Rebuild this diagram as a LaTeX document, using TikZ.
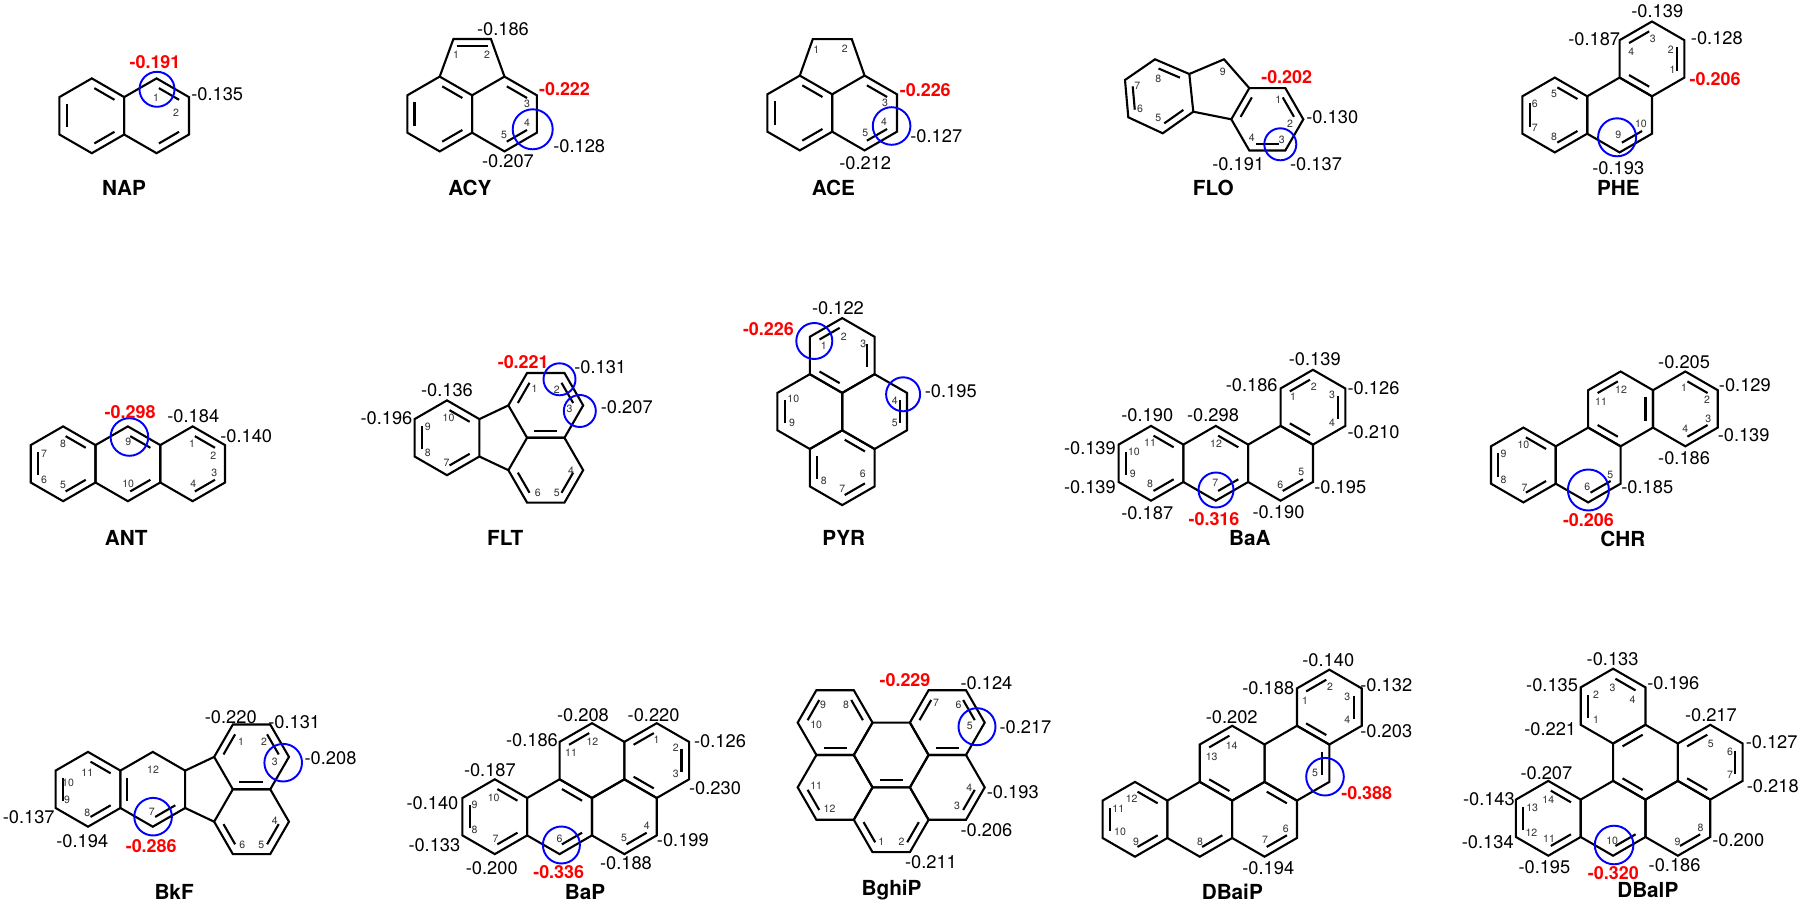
\documentclass[tikz,border=0pt]{standalone}
\usepackage{fontspec}
\setmainfont{TeX Gyre Heros}
\usetikzlibrary{calc}
\newcounter{lc}
\tikzset{
 bond/.style={line width=1.2pt,line join=miter},
 circ/.style={blue,line width=1.1pt},
 lab/.style={inner sep=0pt,font=\fontsize{10.4}{12}\selectfont,text depth=0pt},
 labr/.style={inner sep=0pt,text=red,font=\fontsize{10.2}{12}\selectfont\bfseries,text depth=0pt},
 num/.style={inner sep=0pt,font=\fontsize{6}{7}\selectfont,text=black!80,text depth=0pt},
 ttl/.style={inner sep=0pt,font=\fontsize{11.8}{13}\selectfont\bfseries,text depth=0pt}
}
\newcommand\hx[3]{\coordinate (#1c) at (#2,#3);
 \foreach \k in {0,...,5}{\coordinate (#1\k) at ({#2+sin(60*\k)},{#3-cos(60*\k)});}
 \draw[bond] (#10)--(#11)--(#12)--(#13)--(#14)--(#15)--cycle;}
\newcommand\hf[3]{\coordinate (#1c) at (#2,#3);
 \foreach \k in {0,...,5}{\coordinate (#1\k) at ({#2+cos(60*\k)},{#3+sin(60*\k)});}
 \draw[bond] (#10)--(#11)--(#12)--(#13)--(#14)--(#15)--cycle;}
\newcommand\dbx[3]{\coordinate (dbp) at ($(#1)!0.22!(#3)$);\coordinate (dbq) at ($(#2)!0.22!(#3)$);
 \draw[bond] ($(dbp)!0.1!(dbq)$) -- ($(dbq)!0.1!(dbp)$);}
\newcommand\db[2]{\pgfmathtruncatemacro\nk{mod(#2+1,6)}\dbx{#1#2}{#1\nk}{#1c}}
\newcommand\Lb[3]{\stepcounter{lc}\node[lab] (t\thelc) at (#1,#2) {#3};}
\newcommand\Lw[3]{\stepcounter{lc}\node[lab,anchor=west] (t\thelc) at (#1,#2) {#3};}
\newcommand\Lr[3]{\stepcounter{lc}\node[labr] (t\thelc) at (#1,#2) {#3};}
\newcommand\Nm[3]{\stepcounter{lc}\node[num] (t\thelc) at (#1,#2) {#3};}
\newcommand\Tt[3]{\stepcounter{lc}\node[ttl] (t\thelc) at (#1,#2) {#3};}
\newcommand\Ci[3]{\draw[circ] (#1,#2) circle (#3);}
\begin{document}
\begin{tikzpicture}[x=0.02cm,y=-0.02cm]
\fill[white] (0,0) rectangle (1800,902);
\useasboundingbox (0,0) rectangle (1800,902);
% ---------- NAP
\begin{scope}[shift={(91.8,115.8)},scale=37.5]
\hx{na}{0}{0}\hx{nb}{1.732}{0}
\db{na}{0}\db{na}{2}\db{na}{4}\db{nb}{0}\db{nb}{2}
\end{scope}
\Ci{157}{89.3}{17.5}
\Lr{155}{61.7}{-0.191}\Lw{191}{94}{-0.135}\Nm{156}{97.7}{1}\Nm{176}{112.7}{2}
\Tt{124}{188.3}{NAP}
% ---------- ACY
\begin{scope}[shift={(439.7,114)},scale=37.5]
\hx{ya}{0}{0}\hx{yb}{1.732}{0}
\draw[bond] (ya0)--(0.366,-2)--(1.366,-2)--(yb0);
\draw[bond] (0.45,-1.82)--(1.28,-1.82);
\db{ya}{0}\db{ya}{2}\db{ya}{4}\db{yb}{0}\db{yb}{2}
\end{scope}
\Ci{532.7}{129.3}{20}
\Lb{503}{29.3}{-0.186}\Nm{456}{55}{1}\Nm{487}{55}{2}\Lr{564.5}{89.3}{-0.222}
\Nm{527}{104}{3}\Nm{527}{122.7}{4}\Nm{504}{135}{5}\Lw{553}{146}{-0.128}\Lb{508}{160.7}{-0.207}
\Tt{470}{187.7}{ACY}
% ---------- ACE
\begin{scope}[shift={(799.8,113)},scale=37.5]
\hx{ea}{0}{0}\hx{eb}{1.732}{0}
\draw[bond] (ea0)--(0.346,-1.97)--(1.386,-1.97)--(eb0);
\db{ea}{0}\db{ea}{2}\db{ea}{4}\db{eb}{0}\db{eb}{2}
\end{scope}
\Ci{891.6}{126}{18.8}
\Nm{816.2}{50}{1}\Nm{844.9}{48.3}{2}\Lr{925.3}{90}{-0.226}\Nm{885.1}{102.7}{3}\Nm{884}{122}{4}
\Nm{865.2}{133.3}{5}\Lw{910}{136}{-0.127}\Lb{865.2}{163.3}{-0.212}
\Tt{833.4}{187.7}{ACE}
% ---------- FLO
\coordinate (L1) at (1125,80);\coordinate (L2) at (1155,59.3);\coordinate (L3) at (1189.3,74);
\coordinate (L4) at (1193.3,111.7);\coordinate (L5) at (1162.7,133.3);\coordinate (L6) at (1128.3,117.3);
\coordinate (Lc) at (1158.9,95.9);\coordinate (C9) at (1224,59.3);
\coordinate (R1) at (1249.3,88.1);\coordinate (R2) at (1285.3,88.1);\coordinate (R3) at (1303.3,119.3);
\coordinate (R4) at (1285.3,150.5);\coordinate (R5) at (1249.3,150.5);\coordinate (R6) at (1231.3,119.3);
\coordinate (Rc) at (1267.3,119.3);
\draw[bond] (L1)--(L2)--(L3)--(L4)--(L5)--(L6)--cycle;
\draw[bond] (R1)--(R2)--(R3)--(R4)--(R5)--(R6)--cycle;
\draw[bond] (L3)--(C9)--(R1);\draw[bond] (L4)--(R6);
\dbx{L6}{L1}{Lc}\dbx{L2}{L3}{Lc}\dbx{L5}{L4}{Lc}\dbx{R1}{R6}{Rc}\dbx{R2}{R3}{Rc}\dbx{R4}{R5}{Rc}
\Ci{1280.3}{144.3}{16}
\Nm{1222.7}{71.7}{9}\Nm{1158.3}{79}{8}\Nm{1137.3}{86}{7}\Nm{1140}{108.3}{6}\Nm{1158.3}{118.3}{5}
\Lr{1286.7}{76.7}{-0.202}\Nm{1278.3}{99.3}{1}\Nm{1290}{123.3}{2}\Lw{1306}{117.3}{-0.130}
\Nm{1251.7}{137.7}{4}\Nm{1281.7}{140}{3}\Lb{1238.3}{164}{-0.191}\Lb{1316}{164}{-0.137}
\Tt{1213.3}{187.7}{FLO}
% ---------- PHE
\begin{scope}[shift={(1554.8,115)},scale=37.5]
\hx{pa}{0}{0}\hx{pb}{1.732}{0}\hx{pc}{2.598}{-1.5}
\db{pa}{0}\db{pa}{2}\db{pa}{4}\db{pb}{2}\db{pc}{1}\db{pc}{3}\db{pc}{5}
\end{scope}
\Ci{1617.1}{137.3}{19}
\Lb{1657.3}{10.7}{-0.139}\Lb{1594.2}{39}{-0.187}\Nm{1652.7}{38.3}{3}\Lw{1690.6}{37.7}{-0.128}
\Nm{1670.7}{49.3}{2}\Nm{1631.3}{51.7}{4}\Nm{1672.6}{70}{1}\Lr{1715.1}{79.3}{-0.206}
\Nm{1554}{94.3}{5}\Nm{1534.9}{103.3}{6}\Nm{1534.9}{128.3}{7}\Nm{1554}{136.7}{8}
\Nm{1640.9}{124}{10}\Nm{1618.3}{135}{9}\Lb{1618.3}{168.3}{-0.193}
\Tt{1618.3}{188.3}{PHE}
% ---------- ANT
\begin{scope}[shift={(63.1,463.8)},scale=37.5]
\hx{aa}{0}{0}\hx{ab}{1.732}{0}\hx{ac}{3.464}{0}
\db{aa}{0}\db{aa}{2}\db{aa}{4}\db{ab}{0}\db{ab}{2}\db{ac}{0}\db{ac}{2}
\end{scope}
\Ci{129.4}{437}{18.8}
\Lr{130.1}{411.7}{-0.298}\Lb{193.3}{416}{-0.184}\Lw{220}{436}{-0.140}
\Nm{63.1}{443.3}{8}\Nm{44}{454}{7}\Nm{44}{479.3}{6}\Nm{63.1}{485}{5}\Nm{128.2}{441.7}{9}\Nm{128.2}{484}{10}
\Nm{192.1}{444}{1}\Nm{213.2}{456}{2}\Nm{214.3}{472.7}{3}\Nm{193.3}{484}{4}
\Tt{126.3}{538.3}{ANT}
% ---------- FLT
\begin{scope}[shift={(447,437.8)},scale=37.5]
\hx{fa}{0}{0}\hf{fb}{2.641}{-0.866}\hf{fc}{2.641}{0.866}
\draw[bond] (fa1)--(fb3);\draw[bond] (fa2)--(fc3);
\db{fa}{0}\db{fa}{2}\db{fa}{4}\db{fb}{1}\db{fb}{3}\db{fb}{5}\db{fc}{0}\db{fc}{2}
\end{scope}
\Ci{559.5}{379.3}{16}\Ci{579.8}{411}{16}
\Lr{523.2}{361.7}{-0.221}\Lw{574}{367.5}{-0.131}\Lb{626.8}{406.7}{-0.207}\Lb{447}{390}{-0.136}\Lb{386.5}{418.3}{-0.196}
\Nm{448.5}{417.3}{10}\Nm{427.9}{426.7}{9}\Nm{427.9}{452.7}{8}\Nm{446.6}{462.7}{7}
\Nm{534.6}{389}{1}\Nm{556.8}{390}{2}\Nm{569.5}{408.3}{3}\Nm{571}{471}{4}\Nm{556.8}{492.7}{5}\Nm{537.7}{492.7}{6}
\Tt{505.2}{538.3}{FLT}
% ---------- PYR
\begin{scope}[shift={(842.2,355.5)},scale=37.5]
\hx{ra}{0}{0}\hx{rb}{-0.866}{1.5}\hx{rc}{0.866}{1.5}\hx{rd}{0}{3}
\db{ra}{5}\db{ra}{1}\db{ra}{3}\db{rb}{4}\db{rc}{1}\db{rd}{4}\db{rd}{2}\db{rd}{0}
\end{scope}
\Ci{814.3}{341}{18}\Ci{903.1}{394.3}{17}
\Lb{838}{308.3}{-0.122}\Lr{768.4}{329.3}{-0.226}\Nm{843.8}{336.7}{2}\Nm{823.9}{346}{1}\Nm{863.3}{344}{3}
\Lw{924.5}{390.7}{-0.195}\Nm{894.7}{401}{4}\Nm{894.7}{423.3}{5}\Nm{793.3}{398.3}{10}\Nm{792.1}{422.7}{9}
\Nm{823.9}{481}{8}\Nm{842.2}{489.3}{7}\Nm{862.9}{474}{6}
\Tt{843.8}{538.3}{PYR}
% ---------- BaA
\begin{scope}[shift={(1151,463.3)},scale=37.5]
\hx{ba}{0}{0}\hx{bb}{1.732}{0}\hx{bc}{3.464}{0}\hx{bd}{4.330}{-1.5}
\db{ba}{0}\db{ba}{2}\db{ba}{4}\db{bb}{0}\db{bb}{2}\db{bc}{2}\db{bd}{5}\db{bd}{1}\db{bd}{3}
\end{scope}
\Ci{1216}{490}{17.5}
\Lb{1314.8}{359.3}{-0.139}\Lb{1251.7}{385}{-0.186}\Nm{1313.7}{386.7}{2}\Lw{1347.3}{388.3}{-0.126}
\Nm{1293}{396.7}{1}\Nm{1332}{395}{3}\Lb{1213}{415}{-0.298}\Nm{1216}{443.3}{12}\Nm{1332}{422.7}{4}
\Lw{1347.3}{431.7}{-0.210}\Nm{1301.4}{471.7}{5}\Nm{1280.4}{485}{6}\Lw{1314}{486.7}{-0.195}
\Nm{1215.3}{483.3}{7}\Lb{1278.5}{511.7}{-0.190}\Lr{1214}{519.3}{-0.316}
\Lb{1147.3}{415}{-0.190}\Lb{1089.9}{448.3}{-0.139}\Nm{1133.9}{451.7}{10}\Nm{1150}{442.7}{11}
\Nm{1132.7}{474}{9}\Nm{1150}{484}{8}\Lb{1089.9}{486.7}{-0.139}\Lb{1147.3}{513.3}{-0.187}
\Tt{1249.8}{538.3}{BaA}
% ---------- CHR
\begin{scope}[shift={(1523.4,465)},scale=37.5]
\hx{ca}{0}{0}\hx{cb}{1.732}{0}\hx{cc}{2.598}{-1.5}\hx{cd}{4.33}{-1.5}
\db{ca}{0}\db{ca}{2}\db{ca}{4}\db{cb}{2}\db{cc}{5}\db{cc}{1}\db{cc}{3}\db{cd}{0}\db{cd}{2}
\end{scope}
\Ci{1588.4}{490}{20.5}
\Lb{1684.1}{361.7}{-0.205}\Lw{1718.6}{385}{-0.129}\Nm{1621}{389.3}{12}\Nm{1684.1}{387.3}{1}\Nm{1707}{400}{2}
\Nm{1601}{401.7}{11}\Nm{1708.2}{418.3}{3}\Nm{1685.3}{428.3}{4}\Lw{1717.4}{435}{-0.139}
\Nm{1523.4}{445}{10}\Nm{1503.5}{453.3}{9}\Lb{1684.1}{458.3}{-0.186}\Nm{1503.5}{480}{8}\Nm{1524.5}{488.3}{7}
\Nm{1587.3}{486.7}{6}\Nm{1610.3}{475}{5}\Lw{1621}{486.7}{-0.185}\Lr{1588.4}{520}{-0.206}
\Tt{1622.9}{539}{CHR}
% ---------- BkF
\begin{scope}[shift={(88,789.3)},scale=37.5]
\hx{ka}{0}{0}\hx{kb}{1.732}{0}\hf{kc}{4.373}{-0.866}\hf{kd}{4.373}{0.866}
\draw[bond] (kb1)--(kc3);\draw[bond] (kb2)--(kd3);
\db{ka}{0}\db{ka}{2}\db{ka}{4}\db{kb}{4}\db{kb}{2}\db{kc}{3}\db{kc}{5}\db{kc}{1}\db{kd}{0}\db{kd}{2}
\end{scope}
\Ci{283.2}{762.7}{18.8}\Ci{153.1}{816.7}{18.8}
\Lb{230.8}{716.7}{-0.220}\Lw{268}{721.7}{-0.131}\Nm{241.1}{741.7}{1}\Nm{264.1}{741.7}{2}\Nm{274.8}{761.7}{3}
\Lw{304.3}{758.3}{-0.208}\Nm{87.3}{772.7}{11}\Nm{153.1}{770}{12}\Nm{68.1}{782.7}{10}\Nm{67}{800}{9}
\Nm{87.3}{812.7}{8}\Nm{151.9}{811.7}{7}\Nm{274.8}{820.7}{4}\Nm{242.2}{845}{6}\Nm{261.4}{845}{5}
\Lb{28.7}{816.7}{-0.137}\Lb{82.3}{840.7}{-0.194}\Lr{151.2}{846}{-0.286}
\Tt{174.1}{891.7}{BkF}
% ---------- BaP
\begin{scope}[shift={(494.8,816.7)},scale=37.5]
\hx{qa}{0}{0}\hx{qb}{1.732}{0}\hx{qe}{3.464}{0}\hx{qc}{2.598}{-1.5}\hx{qd}{4.33}{-1.5}
\db{qa}{0}\db{qa}{2}\db{qa}{4}\db{qb}{0}\db{qb}{2}\db{qc}{5}\db{qd}{5}\db{qd}{1}\db{qd}{3}\db{qe}{2}
\end{scope}
\Ci{561.4}{845}{18.5}
\Lb{532}{740}{-0.186}\Lb{583}{715}{-0.208}\Nm{571}{752.3}{11}\Nm{592.4}{741.7}{12}\Lb{489.9}{770}{-0.187}
\Nm{493.7}{797.3}{10}\Nm{474.6}{805}{9}\Lb{432.5}{803.3}{-0.140}\Nm{474.6}{830}{8}\Nm{495.6}{839}{7}
\Nm{559.5}{839}{6}\Lb{434.4}{845}{-0.133}\Lb{491.8}{868.3}{-0.200}\Lr{558.7}{871.7}{-0.336}
\Lb{653.6}{715}{-0.220}\Nm{656.6}{740}{1}\Nm{675.8}{747.3}{2}\Lw{693.8}{740.7}{-0.126}\Nm{675.8}{774}{3}
\Lw{688.8}{788.3}{-0.230}\Nm{646.7}{826}{4}\Nm{624.1}{838.3}{5}\Lw{656.6}{840}{-0.199}\Lb{626}{863.3}{-0.188}
\Tt{585}{891.7}{BaP}
% ---------- BghiP
\begin{scope}[shift={(891.2,755)},scale=37.5]
\hf{ga}{0}{0}\hf{gtl}{-1.5}{-0.866}\hf{gtr}{1.5}{-0.866}\hf{gml}{-1.5}{0.866}\hf{gmr}{1.5}{0.866}\hf{gb}{0}{1.732}
\db{gtl}{3}\db{gtl}{5}\db{gtl}{1}\db{gtr}{3}\db{gtr}{5}\db{gtr}{1}\db{gml}{2}\db{ga}{1}\db{gmr}{0}\db{gb}{2}\db{gb}{0}
\end{scope}
\Ci{977}{726.7}{18.5}
\Lr{905}{680}{-0.229}\Lb{986.5}{683.3}{-0.124}\Nm{823.1}{704.3}{9}\Nm{846.1}{704.3}{8}\Nm{936}{703.3}{7}
\Nm{958.6}{705}{6}\Nm{816.2}{724.3}{10}\Nm{969.7}{726}{5}\Lw{999.2}{727.3}{-0.217}\Nm{816.2}{786}{11}
\Nm{969.3}{787.3}{4}\Lw{986.5}{791.7}{-0.193}\Nm{829.6}{808.3}{12}\Nm{957.1}{806}{3}\Lb{986.5}{830}{-0.206}
\Nm{881.3}{841.7}{1}\Nm{901.6}{841.7}{2}\Lb{931}{861.7}{-0.211}
\Tt{891.6}{887.7}{BghiP}
% ---------- DBaiP
\begin{scope}[shift={(1135,819.3)},scale=37.5]
\hx{ia}{0}{0}\hx{ib}{1.732}{0}\hx{ic}{2.598}{-1.5}\hx{id}{3.464}{0}\hx{ie}{4.33}{-1.5}\hx{ig}{5.196}{-3}
\db{ia}{0}\db{ia}{2}\db{ia}{4}\db{ib}{2}\db{ic}{5}\db{ic}{3}\db{id}{0}\db{id}{2}\db{ie}{1}\db{ig}{5}\db{ig}{1}\db{ig}{3}
\end{scope}
\Ci{1325}{776.7}{18.8}
\Lb{1328.3}{660}{-0.140}\Lb{1268.3}{688.3}{-0.188}\Nm{1330}{686.7}{2}\Lw{1360}{685}{-0.132}\Nm{1305}{700.7}{1}
\Nm{1347.3}{696.7}{3}\Lb{1231.7}{716.7}{-0.202}\Nm{1347.3}{720}{4}\Lw{1360}{730.7}{-0.203}\Nm{1231.7}{746}{14}
\Nm{1211.7}{756.7}{13}\Nm{1315}{773.3}{5}\Lr{1366.7}{793.3}{-0.388}\Nm{1131.7}{798.3}{12}\Nm{1118.3}{808.3}{11}
\Nm{1120}{831.7}{10}\Nm{1136}{841.7}{9}\Nm{1200}{841.7}{8}\Nm{1265}{840}{7}\Nm{1285.7}{828.3}{6}
\Lb{1268.3}{868.3}{-0.194}
\Tt{1232.3}{891.7}{DBaiP}
% ---------- DBalP
\begin{scope}[shift={(1548.3,818.3)},scale=37.5]
\hx{la}{0}{0}\hx{lb}{1.732}{0}\hx{lg}{3.464}{0}\hx{ld}{2.598}{-1.5}\hx{le}{4.33}{-1.5}\hx{lf}{1.732}{-3}
\db{la}{0}\db{la}{2}\db{la}{4}\db{lb}{2}\db{lg}{2}\db{ld}{5}\db{ld}{3}\db{le}{5}\db{le}{1}\db{le}{3}\db{lf}{4}\db{lf}{0}
\end{scope}
\Ci{1614.1}{845}{19.3}
\Lb{1612.6}{659.3}{-0.133}\Lb{1552.1}{685}{-0.135}\Nm{1612.6}{687.3}{3}\Lw{1647}{683.3}{-0.196}
\Nm{1596.1}{695}{2}\Nm{1632.5}{700}{4}\Lb{1710.9}{715}{-0.217}\Nm{1596.1}{720}{1}\Lb{1550.2}{729.3}{-0.221}
\Nm{1710.9}{744}{5}\Nm{1730}{751.7}{6}\Lw{1745.4}{741.7}{-0.127}\Nm{1730}{775}{7}\Lw{1746.5}{786}{-0.218}
\Lb{1546.4}{772.7}{-0.207}\Nm{1548.3}{799.3}{14}\Nm{1532.2}{807.3}{13}\Lb{1488.9}{799.3}{-0.143}
\Nm{1531.4}{832.7}{12}\Nm{1549}{838.3}{11}\Nm{1612.2}{840.7}{10}\Nm{1677.6}{841.7}{9}\Nm{1700.6}{827.3}{8}
\Lw{1712}{840}{-0.200}\Lb{1487.8}{842.3}{-0.134}\Lb{1544.4}{867.3}{-0.195}\Lr{1613.3}{873.3}{-0.320}
\Lb{1674.6}{865}{-0.186}
\Tt{1647.8}{890}{DBalP}
\end{tikzpicture}
\end{document}
